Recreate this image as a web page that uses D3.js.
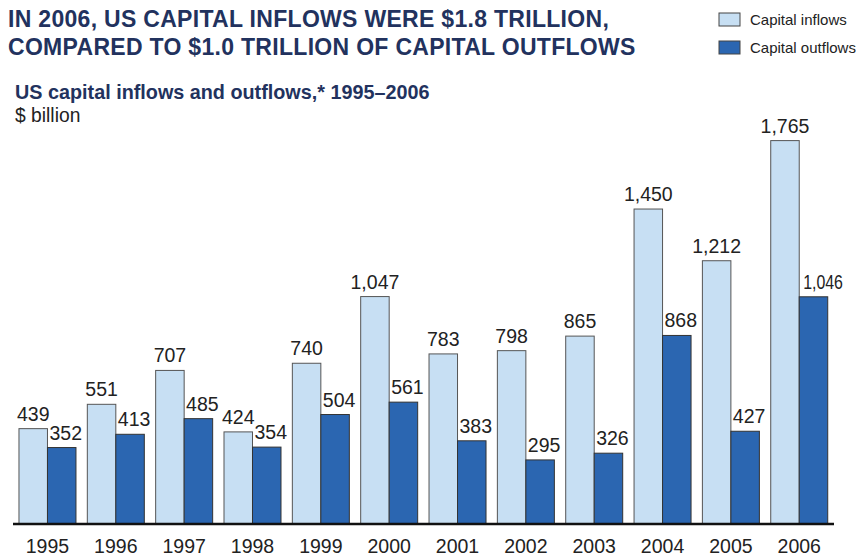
<!DOCTYPE html>
<html>
<head>
<meta charset="utf-8">
<script src="https://cdn.jsdelivr.net/npm/d3@7"></script>
<style>
  html, body { margin: 0; padding: 0; background: #fff; }
  svg { display: block; font-family: "Liberation Sans", Arial, sans-serif; }
</style>
</head>
<body>
<svg id="chart" width="856" height="556"></svg>
<script>
// Years on the x axis
const years = ["1995","1996","1997","1998","1999","2000","2001","2002","2003","2004","2005","2006"];
// $ billion
const inflows  = [439, 551, 707, 424, 740, 1047, 783, 798, 865, 1450, 1212, 1765];
const outflows = [352, 413, 485, 354, 504, 561, 383, 295, 326, 868, 427, 1046];
const seriesNames = ["Capital inflows", "Capital outflows"];
const titleLines = [
  "IN 2006, US CAPITAL INFLOWS WERE $1.8 TRILLION,",
  "COMPARED TO $1.0 TRILLION OF CAPITAL OUTFLOWS"
];
const subtitle = "US capital inflows and outflows,* 1995\u20132006";
const unitLabel = "$ billion";

const colors = { inflow: "#c7dff3", outflow: "#2b66b1" };
const navy = "#22325e";
const fmt = d3.format(",");
const labelSize = 19.5;
const rightLimit = 843;
const axisRight = 834;

const svg = d3.select("#chart");

// Headline
svg.append("text")
  .attr("x", 8).attr("y", 27)
  .attr("fill", navy).attr("font-weight", "bold").attr("font-size", 23)
  .attr("letter-spacing", 0.3)
  .selectAll("tspan").data(titleLines).join("tspan")
  .attr("x", 8).attr("dy", (d, i) => i === 0 ? 0 : 28)
  .text(d => d);

svg.append("text")
  .attr("x", 15).attr("y", 99)
  .attr("fill", navy).attr("font-weight", "bold").attr("font-size", 19.8)
  .text(subtitle);

svg.append("text")
  .attr("x", 15).attr("y", 122)
  .attr("fill", "#222").attr("font-size", 19.3)
  .text(unitLabel);

// Legend
const legend = svg.append("g").attr("transform", "translate(719,13)");
const legendItems = legend.selectAll("g").data(seriesNames).join("g")
  .attr("transform", (d, i) => `translate(0,${i * 28})`);
legendItems.append("rect")
  .attr("width", 21).attr("height", 13)
  .attr("fill", (d, i) => i === 0 ? colors.inflow : colors.outflow)
  .attr("stroke", "#444").attr("stroke-width", 1);
legendItems.append("text")
  .attr("x", 31).attr("y", 12)
  .attr("font-size", 15).attr("fill", "#222")
  .text(d => d);

// Scales
const baseY = 524;
const x = d3.scaleBand().domain(years).range([13.3, 833.4])
  .paddingInner(0.166).paddingOuter(0.083);
const xs = d3.scaleBand().domain(["in", "out"]).range([0, x.bandwidth()]);
const y = d3.scaleLinear().domain([0, 1800]).range([baseY, 133]);

const rows = years.map((yr, i) => ({ year: yr, inflow: inflows[i], outflow: outflows[i] }));

const groups = svg.append("g").selectAll("g").data(rows).join("g")
  .attr("transform", d => `translate(${x(d.year)},0)`);

// Bars
groups.append("rect")
  .attr("x", xs("in")).attr("width", xs.bandwidth())
  .attr("y", d => y(d.inflow)).attr("height", d => y(0) - y(d.inflow))
  .attr("fill", colors.inflow).attr("stroke", "#555").attr("stroke-width", 1);

groups.append("rect")
  .attr("x", xs("out")).attr("width", xs.bandwidth())
  .attr("y", d => y(d.outflow)).attr("height", d => y(0) - y(d.outflow))
  .attr("fill", colors.outflow).attr("stroke", "#333").attr("stroke-width", 1);

// Value labels
groups.append("text")
  .attr("x", xs("in") + xs.bandwidth() / 2)
  .attr("y", d => y(d.inflow) - 8)
  .attr("text-anchor", "middle").attr("font-size", labelSize).attr("fill", "#222")
  .text(d => fmt(d.inflow));

groups.append("g").each(function(d) {
  const g = d3.select(this);
  const gx = x(d.year);
  const barLeft = xs("out");
  const ly = y(d.outflow) - 8;
  const t = g.append("text")
    .attr("x", barLeft + xs.bandwidth() / 2 + 4).attr("y", ly)
    .attr("text-anchor", "middle").attr("font-size", labelSize).attr("fill", "#222")
    .text(fmt(d.outflow));
  let bb = t.node().getBBox();
  // narrow a label that would run past the end of the axis
  if (gx + bb.x + bb.width > axisRight) {
    const left = barLeft + 4;
    const sx = (rightLimit - gx - left) / bb.width;
    t.attr("text-anchor", "start").attr("x", 0).attr("y", 0)
      .attr("transform", `translate(${left},${ly}) scale(${sx},1)`);
    bb = { x: left, y: ly - bb.height * 0.8, width: bb.width * sx, height: bb.height };
  }
  // white backing where the label sits over the neighbouring inflow bar
  if (bb.x < xs("in") + xs.bandwidth() && y(d.outflow) - 24 > y(d.inflow)) {
    g.insert("rect", "text")
      .attr("x", bb.x - 2).attr("y", bb.y + 2)
      .attr("width", bb.width + 4).attr("height", bb.height - 2)
      .attr("fill", "#fff");
  }
});

// Baseline
svg.append("line")
  .attr("x1", 13).attr("x2", axisRight)
  .attr("y1", baseY).attr("y2", baseY)
  .attr("stroke", "#111").attr("stroke-width", 2.5);

// Year labels
svg.append("g").selectAll("text").data(years).join("text")
  .attr("x", d => x(d) + x.bandwidth() / 2)
  .attr("y", 553)
  .attr("text-anchor", "middle").attr("font-size", labelSize).attr("fill", "#222")
  .text(d => d);
</script>
</body>
</html>
